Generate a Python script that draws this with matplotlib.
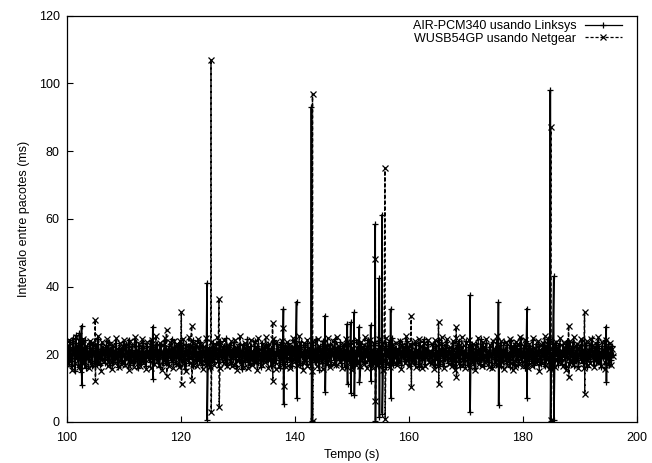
import numpy as np
import matplotlib
matplotlib.use("Agg")
import matplotlib.pyplot as plt

plt.rcParams['font.family'] = ['Liberation Sans', 'DejaVu Sans']

# ---- data -------------------------------------------------------------
X_TICKS = [100, 120, 140, 160, 180, 200]
Y_TICKS = [0, 20, 40, 60, 80, 100, 120]
T_START, T_END = 100.0, 195.8

LABEL_LK = "AIR-PCM340 usando Linksys"
LABEL_NG = "WUSB54GP usando Netgear"

# regular inter-packet intervals (ms), Linksys
LK_BASE = [
    20.4,18.2,22.1,17.6,23.5,19.0,16.4,24.8,21.3,15.2,25.6,18.9,22.7,16.1,26.3,19.5,14.8,23.9,20.6,17.3,
    24.1,15.9,22.4,18.5,21.0,17.8,23.2,19.7,16.6,22.9,20.1,18.0,21.8,17.1,24.4,19.3,20.9,16.8,23.0,18.6,
    21.5,19.9,17.4,22.6,20.2,18.3,23.7,16.9,21.1,19.4,22.2,17.7,20.8,18.8,23.4,19.1,16.3,22.0,20.5,17.9,
    21.7,18.4,22.8,19.6,17.2,23.1,20.0,18.7,24.2,16.7,21.4,19.2,22.5,17.5,20.7,18.1,23.6,19.8,15.8,22.3,
    20.3,17.0,21.9,19.0,23.3,18.3,20.6,16.5,22.4,19.5,21.2,17.6,24.0,18.9,20.1,22.7,17.3,21.6,19.2,23.0,
    18.5,21.3,16.2,22.9,19.8,20.4,17.4,23.8,18.1,21.0,19.6,16.9,22.3,20.7,18.4,24.6,17.8,21.5,19.3,22.1,
    17.1,20.9,18.8,23.4,16.6,21.8,19.9,22.6,18.2,20.3,15.7,23.0,19.4,21.4,17.5,22.8,20.0,18.6,24.1,16.4,
    21.9,19.1,22.4,17.9,20.5,18.0,23.5,19.7,16.8,22.2,20.8,18.3,21.1,17.2,24.3,19.0,22.0,16.0,20.6,18.9,
    23.2,17.6,21.7,19.5,22.9,18.7,20.2,16.3,23.9,19.2,21.5,17.7,22.5,20.1,18.2,24.7,16.7,21.2,19.8,22.8,
    17.0,20.7,18.5,23.6,19.3,21.9,16.5,22.1,20.4,18.1,23.1,19.6,15.6,22.7,20.0,17.8,21.6,19.0,24.5,18.4,
    20.9,16.9,22.3,19.4,21.0,17.3,23.8,18.6,20.5,22.4,17.5,21.3,19.7,16.2,23.3,18.0,21.8,19.1,22.6,17.9,
    20.2,23.0,18.8,21.4,16.6,22.0,19.9,24.2,17.4,20.8,18.3,22.9,19.5,21.1,15.9,23.5,18.7,20.3,17.1,22.5,
    19.2,21.7,17.7,23.4,20.6,18.5,22.2,16.4,21.5,19.8,24.0,17.6,20.0,22.8,18.2,21.0,16.8,23.7,19.3,20.7,
    18.0,22.1,19.6,17.0,23.2,20.4,18.9,21.9,16.1,22.6,19.0,20.9,17.8,24.4,18.6,21.2,19.7,15.5,22.3,20.1,
    17.4,23.9,19.4,21.6,18.1,22.7,16.7,20.5,19.1,23.1,17.2,21.8,20.3,18.4,24.6,16.9,22.0,19.9,21.3,18.8,
    23.6,17.5,20.8,19.2,22.4,16.3,21.4,18.7,23.3,20.0,17.9,22.9,19.5,21.1,16.6,24.1,18.2,20.6,17.7,22.2,
    19.8,21.5,16.0,23.0,18.5,20.2,22.5,17.3,21.7,19.3,24.3,18.0,20.9,16.8,22.8,19.6,21.0,17.6,23.4,18.9,
    20.5,16.5,22.6,19.0,21.9,17.1,23.7,18.3,20.1,22.3,16.2,21.2,19.7,23.5,17.8,20.7,18.6,24.8,16.9,21.6,
    19.4,22.0,17.4,21.3,18.1,23.8,20.3,16.7,22.9,19.1,21.8,17.9,20.0,24.0,18.4,22.4,16.4,21.1,19.9,23.2,
    18.7,20.6,17.2,22.7,19.5,21.4,16.1,23.6,20.2,18.2,22.1,19.2,24.5,17.0,21.0,18.8,23.1,20.8,17.5,20.4,
    21.2,17.8,23.1,19.4,16.7,22.5,20.0,18.3,24.2,17.1,21.6,19.7,22.8,16.4,20.9,18.6,23.6,19.1,17.4,22.0,
    20.6,18.0,21.9,16.9,23.4,19.3,20.2,17.7,22.6,18.9,24.0,16.2,21.3,19.8,22.3,17.2,20.7,18.4,23.8,19.0,
    16.8,22.2,20.1,18.7,23.0,17.5,21.5,19.5,15.9,22.9,18.1,21.0,20.4,17.0,24.5,18.8,22.4,19.2,16.5,21.7,
    23.3,18.2,20.8,17.6,22.1,19.9,16.1,23.7,20.3,18.5,21.8,17.3,24.4,19.6,20.0,22.7,16.6,21.1,18.0,23.5,
    19.1,21.4,17.9,22.8,18.6,20.5,16.3,24.1,19.4,21.9,17.1,23.2,20.7,18.3,22.5,16.9,21.2,19.7,24.7,17.7,
    20.2,22.6,18.9,16.0,23.9,19.0,21.6,17.4,22.0,20.9,18.1,24.3,16.7,21.0,19.5,23.1,17.8,20.4,22.4,18.7,
    17.2,21.7,19.8,23.6,16.4,22.2,18.4,20.6,24.6,17.5,21.3,19.2,15.8,22.9,20.0,18.2,23.4,19.6,21.1,16.8,
    22.7,18.5,20.3,17.0,23.0,19.3,21.8,16.2,24.0,18.8,20.8,22.3,17.6,21.5,19.1,23.7,16.5,20.1,18.0,22.8,
    19.7,16.6,22.1,20.5,18.3,24.2,17.3,21.4,19.0,23.3,16.1,20.9,18.6,22.6,17.9,21.2,24.8,19.4,16.9,22.0,
    18.1,23.5,20.2,17.7,21.9,19.9,16.3,22.4,18.9,20.7,24.1,17.4,21.6,19.3,23.0,16.7,20.4,18.4,22.5,19.8,
]

# regular inter-packet intervals (ms), Netgear
NG_BASE = [
    19.6,22.8,16.9,24.3,18.1,21.5,15.4,23.7,20.2,17.3,25.1,19.0,22.2,16.2,23.9,18.6,21.0,17.7,24.6,19.8,
    16.5,22.5,18.9,20.7,15.8,24.0,19.3,21.8,17.1,23.3,20.0,16.7,22.9,18.4,25.4,17.6,21.3,19.5,15.1,23.6,
    20.9,17.9,22.0,19.1,24.4,16.4,21.6,18.2,23.0,20.5,15.6,22.6,19.7,17.4,24.8,18.8,21.2,16.1,23.4,20.3,
    17.0,21.9,19.4,24.1,16.8,22.3,18.5,20.6,15.3,23.8,19.9,17.8,22.7,20.1,16.3,25.0,18.0,21.4,19.2,23.1,
    16.6,20.8,18.3,24.5,17.5,22.1,19.6,15.7,23.5,20.4,18.7,21.7,16.0,24.2,19.0,22.4,17.2,20.0,25.3,18.1,
    21.1,16.9,23.2,19.3,20.7,15.5,22.8,18.6,24.7,17.4,21.5,19.8,16.4,23.6,20.2,18.2,22.0,15.9,24.0,19.5,
    17.7,22.6,20.5,16.2,23.9,18.9,21.2,17.0,24.4,19.1,20.9,15.2,22.3,18.4,25.2,17.3,21.8,19.7,16.7,23.3,
    20.1,18.0,22.9,16.5,24.6,19.4,21.0,17.6,23.1,15.6,22.2,20.6,18.5,24.9,17.1,21.6,19.0,16.1,23.7,20.3,
    18.3,22.4,16.8,21.3,19.6,25.0,17.9,20.8,15.8,23.4,19.2,22.0,17.5,24.3,18.7,21.4,16.4,22.7,20.0,18.1,
    23.8,16.6,21.7,19.3,24.1,17.2,20.4,15.4,22.5,18.8,25.5,17.0,21.1,19.9,16.3,23.2,20.7,18.4,22.8,15.9,
    21.9,18.6,24.2,16.7,20.3,19.0,23.6,17.6,22.1,15.3,24.8,18.2,21.5,20.5,16.9,23.0,19.4,17.8,25.1,18.9,
    20.6,16.0,22.9,19.2,21.3,17.4,24.5,18.0,20.1,15.7,23.5,19.7,22.4,16.5,21.0,18.3,24.0,17.1,22.2,19.5,
    16.2,23.7,20.8,18.5,22.6,15.9,21.6,19.1,24.7,17.7,20.2,23.1,16.8,21.8,18.7,25.3,17.2,22.0,19.8,15.5,
    23.4,18.1,21.2,16.4,24.3,19.3,20.5,17.5,22.7,15.2,23.9,18.8,21.4,20.0,16.6,24.6,17.9,22.3,19.6,18.2,
    21.7,15.6,23.3,19.0,20.9,17.3,24.9,18.4,22.1,16.1,21.0,19.9,23.8,17.0,20.4,16.7,25.0,18.6,22.5,19.4,
    17.6,21.5,15.8,23.0,20.2,18.9,24.4,16.3,22.8,19.5,21.1,17.8,23.6,15.4,22.0,19.1,20.7,16.9,24.2,18.0,
    22.4,19.7,16.5,23.5,18.3,21.9,17.2,25.2,20.0,15.9,22.6,18.7,24.1,17.4,21.3,19.2,16.0,23.2,20.6,18.5,
    21.6,16.8,24.5,19.0,20.3,17.9,23.0,15.5,22.2,18.1,24.8,17.1,21.0,19.8,16.2,23.7,20.9,18.6,22.9,17.5,
    19.3,23.4,16.7,21.4,18.0,24.0,20.5,15.6,22.7,19.6,21.8,17.3,25.4,18.4,20.1,16.4,23.1,19.1,22.3,17.7,
    20.8,18.2,23.9,16.1,21.2,19.4,24.6,17.0,22.5,15.8,20.4,18.8,23.3,16.6,21.9,19.9,24.3,17.8,20.6,19.2,
    17.3,22.9,19.8,15.7,24.2,18.5,21.1,16.6,23.4,20.3,17.9,25.0,19.1,21.7,16.0,22.6,18.7,24.4,20.5,17.0,
    22.1,19.4,16.4,23.8,18.0,21.3,15.5,24.7,19.6,20.9,17.5,22.8,16.8,25.2,18.3,21.0,19.9,15.9,23.3,20.2,
    18.6,24.1,16.1,21.9,19.2,23.0,17.7,20.6,15.3,22.4,18.9,24.9,17.2,21.5,20.0,16.5,23.6,19.3,22.2,17.8,
    24.5,18.4,20.8,16.3,22.7,19.7,15.8,23.9,20.4,17.1,21.6,18.8,25.3,16.7,22.0,19.0,24.0,17.6,20.7,15.6,
    21.4,19.5,23.5,16.9,20.1,18.1,24.6,17.4,22.5,15.4,21.8,20.6,16.2,23.7,19.1,22.9,17.0,25.1,18.5,20.3,
    16.4,22.3,19.9,24.3,17.8,21.2,15.9,23.1,18.7,20.5,16.6,24.8,19.4,22.0,17.3,21.0,18.2,23.8,15.2,22.6,
    20.0,17.5,23.2,19.0,25.4,16.8,21.7,18.6,22.8,15.7,24.2,19.8,17.1,21.4,20.9,16.1,23.5,18.3,22.1,19.6,
    17.7,24.7,18.9,21.1,16.5,23.4,20.2,15.5,22.9,19.3,21.9,17.2,24.0,18.0,20.6,16.9,25.0,19.5,22.4,18.4,
    23.0,16.0,21.5,19.7,24.5,17.9,20.3,15.8,22.2,18.6,23.9,16.7,21.2,20.1,17.4,24.6,18.8,22.7,16.3,21.8,
    19.2,22.5,17.6,25.2,18.1,20.8,16.4,23.6,19.9,21.3,15.6,24.1,18.5,22.0,17.0,20.4,23.3,16.8,21.6,19.4,
]

# late packets: time (s), long interval (ms), following short interval (ms)
LK_SPIKE_T  = [102.6, 115.1, 124.6, 138.0, 140.3, 142.9, 145.3, 149.2, 149.8, 150.4, 151.3,
               153.3, 154.1, 154.8, 155.3, 156.8, 170.7, 175.7, 180.7, 184.8, 185.4, 194.6]
LK_SPIKE_HI = [28.4, 28.2, 41.0, 33.4, 35.5, 93.0, 31.4, 29.0, 29.4, 32.4, 28.2,
               28.6, 58.4, 42.4, 61.2, 33.3, 37.4, 35.3, 33.5, 98.0, 43.0, 28.2]
LK_SPIKE_LO = [10.9, 12.7, 0.5, 5.2, 7.1, 0.3, 9.0, 11.3, 8.7, 7.9, 11.9,
               12.2, 0.4, 1.5, 2.5, 7.0, 3.0, 5.1, 7.1, 0.4, 0.5, 11.9]

NG_SPIKE_T  = [105.0, 117.5, 120.1, 121.9, 125.3, 126.7, 136.1, 138.0, 143.1, 154.1, 155.8,
               160.4, 165.2, 168.3, 184.9, 188.0, 190.8]
NG_SPIKE_HI = [30.2, 27.2, 32.4, 28.3, 107.0, 36.3, 29.3, 27.7, 97.0, 48.1, 75.1,
               31.2, 29.4, 28.0, 87.0, 28.4, 32.4]
NG_SPIKE_LO = [12.2, 13.6, 11.1, 12.4, 2.8, 4.3, 12.2, 10.5, 0.4, 6.1, 0.8,
               10.2, 11.2, 13.2, 0.5, 13.3, 8.3]


def build_series(base, st, hi, lo):
    t_base = np.linspace(T_START, T_END, len(base))
    st = np.asarray(st)
    t = np.concatenate([t_base, st, st + 0.04])
    v = np.concatenate([np.asarray(base), np.asarray(hi), np.asarray(lo)])
    order = np.argsort(t, kind="stable")
    return t[order], v[order]


lk_t, lk_v = build_series(LK_BASE, LK_SPIKE_T, LK_SPIKE_HI, LK_SPIKE_LO)
ng_t, ng_v = build_series(NG_BASE, NG_SPIKE_T, NG_SPIKE_HI, NG_SPIKE_LO)

# ---- figure -----------------------------------------------------------
fig = plt.figure(figsize=(6.52, 4.63), dpi=100)
ax = fig.add_axes([0.1023, 0.0886, 0.8747, 0.8774])

ax.plot(lk_t, lk_v, color="black", lw=1.15, marker="+", markersize=5,
        markeredgewidth=0.9, label=LABEL_LK)
ax.plot(ng_t, ng_v, color="black", lw=1.05, linestyle=(0, (2.5, 1.5)), marker="x",
        markersize=4.2, markeredgewidth=0.9, label=LABEL_NG)

ax.set_xlim(100, 200)
ax.set_ylim(0, 120)
ax.set_xticks(X_TICKS)
ax.set_yticks(Y_TICKS)
ax.tick_params(direction="in", length=4, width=0.8, top=False, right=False,
               labelsize=9)
ax.tick_params(axis="x", pad=7)
ax.tick_params(axis="y", pad=5)
for s in ax.spines.values():
    s.set_linewidth(0.9)

ax.set_xlabel("Tempo (s)", fontsize=9, labelpad=4)
ax.set_ylabel("Intervalo entre pacotes (ms)", fontsize=9, labelpad=6)

leg = ax.legend(loc="upper right", bbox_to_anchor=(0.9737, 0.989),
                frameon=False, markerfirst=False,
                fontsize=9, handlelength=3.0, labelspacing=0.05,
                borderaxespad=0.0, borderpad=0.0, handletextpad=0.65)
for h in leg.legend_handles:
    h.set_linewidth(0.9)

fig.savefig("out.png", dpi=100)
